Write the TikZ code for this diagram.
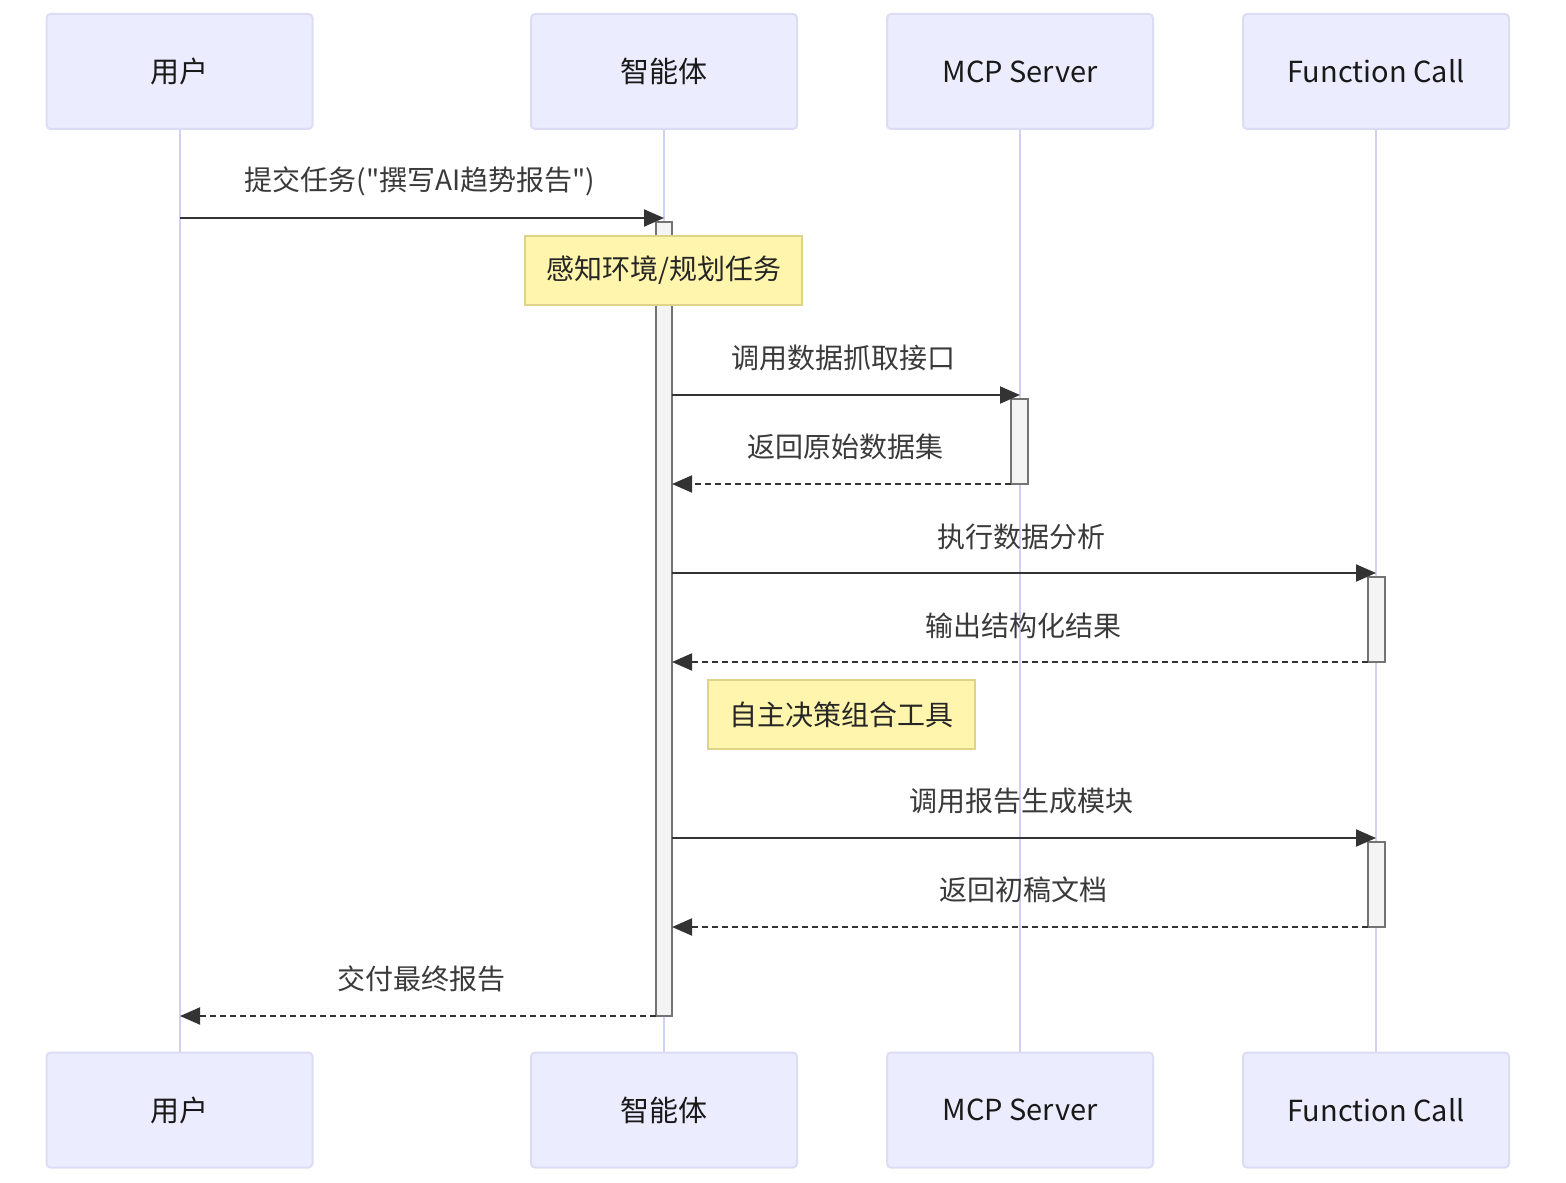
\documentclass[tikz,border=0pt]{standalone}
\usepackage{fontspec}
\setmainfont{Noto Sans CJK SC}[Ligatures=TeXOff]
\usetikzlibrary{arrows.meta}
\definecolor{actfill}{HTML}{ECECFF}
\definecolor{actline}{HTML}{DCDCF4}
\definecolor{lifeline}{HTML}{D0D0F4}
\definecolor{notefill}{HTML}{FFF5AD}
\definecolor{noteline}{HTML}{DDD38A}
\definecolor{actvfill}{HTML}{F4F4F4}
\definecolor{msgcol}{HTML}{333333}
\definecolor{txtcol}{HTML}{3A3A3A}
\begin{document}
\begin{tikzpicture}[x=0.5pt,y=-0.5pt,
  actor/.style={draw=actline, line width=1pt, fill=actfill, rounded corners=2pt,
    minimum width=133pt, minimum height=57.5pt, inner sep=0pt,
    font=\fontsize{14.5pt}{17pt}\selectfont, text=black!90},
  life/.style={draw=lifeline, line width=1pt},
  actv/.style={draw=black!55, fill=actvfill, line width=0.6pt},
  notebox/.style={draw=noteline, fill=notefill, line width=0.8pt, inner sep=0pt,
    font=\fontsize{14pt}{17pt}\selectfont, text=black!85},
  msg/.style={draw=msgcol, line width=1pt, -{Triangle[length=10pt,width=8.5pt]}},
  ret/.style={msg, dash pattern=on 3pt off 2pt},
  lbl/.style={font=\fontsize{14pt}{17pt}\selectfont, text=txtcol, inner sep=0pt}
]
\useasboundingbox (0,0) rectangle (1566,1182);
\fill[white] (0,0) rectangle (1566,1182);

% lifelines
\foreach \x/\n in {180/u,664/a,1020/m,1376/f}{
  \coordinate (\n top) at (\x,129);
  \coordinate (\n bot) at (\x,1052);
  \draw[life] (\n top) -- (\n bot);
}

% actors top
\node[actor] (uT) at (179.5,71.5) {用户};
\node[actor] (aT) at (664,71.5) {智能体};
\node[actor] (mT) at (1020,71.5) {MCP Server};
\node[actor] (fT) at (1376,71.5) {Function Call};
% actors bottom
\node[actor] (uB) at (179.5,1110) {用户};
\node[actor] (aB) at (664,1110) {智能体};
\node[actor] (mB) at (1020,1110) {MCP Server};
\node[actor] (fB) at (1376,1110) {Function Call};

% activations
\draw[actv] (656,222) rectangle (672,1016);
\draw[actv] (1011,399) rectangle (1028,484);
\draw[actv] (1368,577) rectangle (1385,662);
\draw[actv] (1368,842) rectangle (1385,927);

% notes
\node[notebox, minimum width=138.5pt, minimum height=34.5pt] (n1) at (663.5,270.5) {感知环境/规划任务};
\node[notebox, minimum width=133.5pt, minimum height=34.5pt] (n2) at (841.5,714.5) {自主决策组合工具};

% message end points
\coordinate (m1a) at (180,218);  \coordinate (m1b) at (664,218);
\coordinate (m2a) at (672,395);  \coordinate (m2b) at (1020,395);
\coordinate (m3a) at (1011,484); \coordinate (m3b) at (672,484);
\coordinate (m4a) at (672,573);  \coordinate (m4b) at (1376,573);
\coordinate (m5a) at (1368,662); \coordinate (m5b) at (672,662);
\coordinate (m6a) at (672,838);  \coordinate (m6b) at (1376,838);
\coordinate (m7a) at (1368,927); \coordinate (m7b) at (672,927);
\coordinate (m8a) at (656,1016); \coordinate (m8b) at (180,1016);

\draw[msg] (m1a) -- (m1b);
\draw[msg] (m2a) -- (m2b);
\draw[ret] (m3a) -- (m3b);
\draw[msg] (m4a) -- (m4b);
\draw[ret] (m5a) -- (m5b);
\draw[msg] (m6a) -- (m6b);
\draw[ret] (m7a) -- (m7b);
\draw[ret] (m8a) -- (m8b);

% labels
\node[lbl] (l1) at (420,181) {提交任务("撰写AI趋势报告")};
\node[lbl] (l2) at (843,358) {调用数据抓取接口};
\node[lbl] (l3) at (845,447) {返回原始数据集};
\node[lbl] (l4) at (1021,537) {执行数据分析};
\node[lbl] (l5) at (1023,626) {输出结构化结果};
\node[lbl] (l6) at (1021,801) {调用报告生成模块};
\node[lbl] (l7) at (1023,890) {返回初稿文档};
\node[lbl] (l8) at (421,979) {交付最终报告};
\end{tikzpicture}
\end{document}
